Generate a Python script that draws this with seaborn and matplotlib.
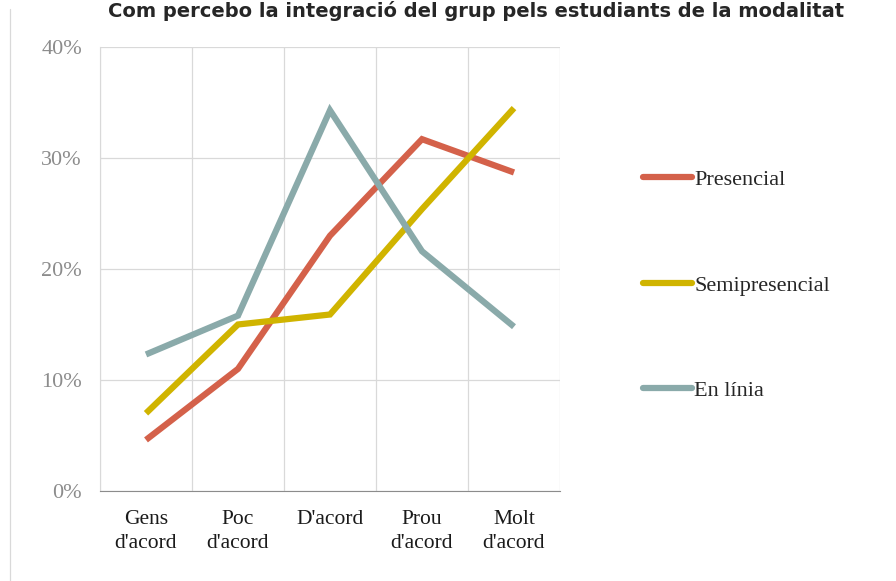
import matplotlib
matplotlib.use("Agg")
from matplotlib import pyplot as plt
from matplotlib.lines import Line2D
from matplotlib.ticker import FixedLocator, PercentFormatter
import seaborn as sns
import pandas as pd

# dades llegides del gràfic
categories = ["Gens\nd'acord", "Poc\nd'acord", "D'acord", "Prou\nd'acord", "Molt\nd'acord"]
presencial = [4.6, 11.0, 23.0, 31.7, 28.7]
semipresencial = [7.0, 15.0, 15.9, 25.4, 34.5]
en_linia = [12.3, 15.8, 34.3, 21.6, 14.8]
series_names = ["Presencial", "Semipresencial", "En línia"]
colors = ["#D4614A", "#D0B400", "#8AAAAA"]
title = "Com percebo la integració del grup pels estudiants de la modalitat"

df = pd.DataFrame({
    "cat": categories * 3,
    "val": presencial + semipresencial + en_linia,
    "serie": [s for s in series_names for _ in categories],
})

sns.set_style("white")
plt.rcParams["font.family"] = ["Liberation Serif", "DejaVu Serif"]

fig = plt.figure(figsize=(8.96, 5.81), dpi=100)
ax = fig.add_axes([0.1116, 0.155, 0.5134, 0.764])

sns.lineplot(data=df, x="cat", y="val", hue="serie", palette=colors,
             linewidth=4.5, ax=ax, sort=False)
for ln in ax.lines:
    ln.set_solid_capstyle("butt")
    ln.set_solid_joinstyle("miter")

ax.set_xlim(-0.5, 4.5)
ax.set_ylim(0, 40)
ax.set_xlabel("")
ax.set_ylabel("")

ax.yaxis.set_major_locator(FixedLocator([0, 10, 20, 30, 40]))
ax.yaxis.set_major_formatter(PercentFormatter(decimals=0))
ax.xaxis.set_minor_locator(FixedLocator([-0.5, 0.5, 1.5, 2.5, 3.5, 4.5]))
ax.grid(True, axis="y", which="major", color="#D9D9D9", linewidth=0.9)
ax.grid(True, axis="x", which="minor", color="#D9D9D9", linewidth=0.9)
ax.set_axisbelow(True)

ax.tick_params(axis="x", which="major", length=0, labelsize=15.5,
               labelcolor="#1a1a1a", pad=14)
for lbl in ax.get_xticklabels():
    lbl.set_linespacing(1.35)
ax.tick_params(axis="x", which="minor", length=6, color="#8C8C8C", width=0.9)
ax.tick_params(axis="y", length=7, color="#D9D9D9", width=0.9,
               labelsize=16, labelcolor="#8C8C8C", pad=6)

for side in ["top", "right"]:
    ax.spines[side].set_visible(False)
ax.spines["left"].set_color("#D9D9D9")
ax.spines["bottom"].set_color("#8C8C8C")

handles = [Line2D([0], [0], color=c, linewidth=4.5, solid_capstyle="round")
           for c in colors]
ax.legend(handles, series_names, loc="upper left", bbox_to_anchor=(1.137, 0.769),
          frameon=False, fontsize=16, handlelength=2.2, handletextpad=0.1,
          labelspacing=3.82)

# títol (a l'original queda tallat per dalt)
fig.text(0.12, 0.998, title, fontsize=14, fontweight="bold",
         family=["DejaVu Sans"], va="top", ha="left")
fig.add_artist(Line2D([0.011, 0.011], [0.0, 0.985], color="#D9D9D9",
                      linewidth=0.9, transform=fig.transFigure))

fig.savefig("out.png", dpi=100)
